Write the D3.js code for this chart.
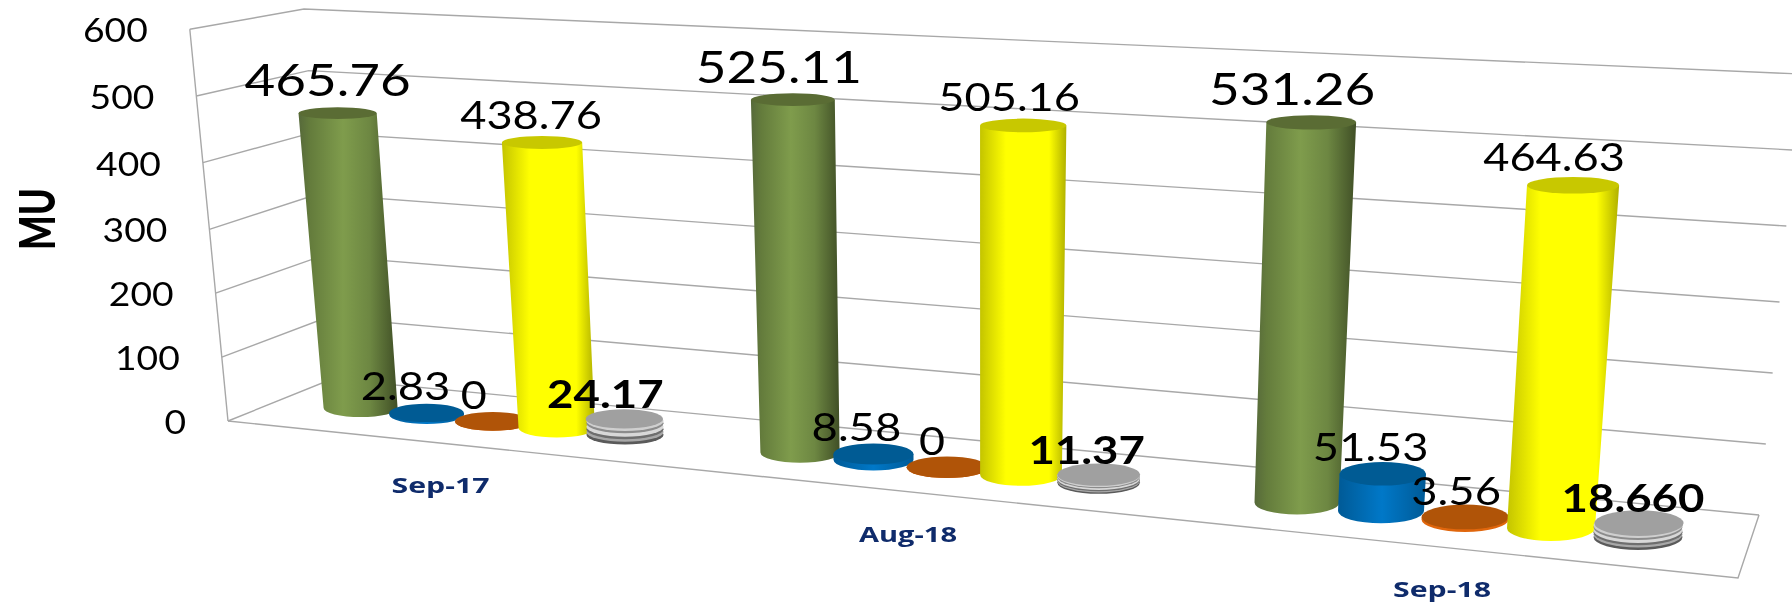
<!DOCTYPE html>
<html lang="en">
<head>
  <meta charset="UTF-8" />
  <title>MU by month</title>
  <style>
    html, body {
      margin: 0;
      padding: 0;
      background: #fff;
      overflow: hidden;
    }
    svg {
      display: block;
      filter: blur(0.5px);
    }
    .tick-label, .value-label {
      font-family: Lato, sans-serif;
      fill: #000;
      text-anchor: middle;
    }
    .cat-label {
      font-family: "Open Sans", sans-serif;
      font-weight: 700;
      font-size: 22px;
      fill: #0f2b6b;
      text-anchor: middle;
    }
    .grid {
      fill: none;
      stroke: #a8a8a8;
      stroke-width: 1.4px;
    }
  </style>
</head>
<body>
  <svg width="1792" height="606"></svg>
  <script src="https://d3js.org/d3.v7.min.js"></script>
  <script>
    const categories = ["Sep-17", "Aug-18", "Sep-18"];
    const greenValues = [465.76, 525.11, 531.26];
    const blueValues = [2.83, 8.58, 51.53];
    const orangeValues = [0, 0, 3.56];
    const yellowValues = [438.76, 505.16, 464.63];
    const greyValues = [24.17, 11.37, 18.66];
    const greyLabels = ["24.17", "11.37", "18.660"];
    const valueTicks = [0, 100, 200, 300, 400, 500, 600];

    const series = [
      { name: "green", values: greenValues, side: "url(#g-green)", top: "#5a6c34", size: 45, digit: 30.5, dy: -17, dx: [-10, -14, -19] },
      { name: "blue", values: blueValues, side: "url(#g-blue)", top: "#005b94", size: 39, digit: 26, dy: -13, dx: [-21, -17, -12] },
      { name: "orange", values: orangeValues, side: "#e0660c", top: "#b05408", size: 39, digit: 26, dy: -12, dx: [-19, -15, -9] },
      { name: "yellow", values: yellowValues, side: "url(#g-yellow)", top: "#c8c800", size: 39, digit: 26, dy: -14, dx: [-11, -14, -19] },
      { name: "grey", values: greyValues, labels: greyLabels, top: "#a0a0a0", size: 39, digit: 26.2, dy: -11, dx: [-19, -12, -6], bold: true }
    ];

    const svg = d3.select("svg");

    // the three corners of the walls, each as value -> screen
    const frontLeftX = d3.scaleLinear().domain([0, 300, 600]).range([228, 209.4, 189.8]);
    const frontLeftY = d3.scaleLinear().domain([0, 300, 600]).range([421, 229.3, 29.3]);
    const backLeftX = d3.scaleLinear().domain([0, 600]).range([332, 304]);
    const backLeftY = d3.scaleLinear().domain([0, 600]).range([379, 9]);
    const backRightX = d3.scaleLinear().domain([0, 600]).range([1759, 1800]);
    const backRightY = d3.scaleLinear().domain([0, 300, 600]).range([515, 302, 74]);
    const frontRight = [1738, 578];

    // columns stand in one plane, slot = 6.5 per category + 1 per series
    const slotX = d3.scaleLinear()
      .domain([0, 2, 3, 4, 6.5, 8.5, 9.5, 10.5, 13, 15, 16, 17])
      .range([360.6, 492.7, 556.7, 625, 800, 947, 1021, 1098.6, 1297, 1465, 1551, 1638]);
    const baseY = d3.scaleLinear().domain([360, 1638]).range([408, 537]);
    const pxPerUnit = d3.scaleLinear().domain([360, 1550]).range([0.633, 0.738]);
    const lean = d3.scaleLinear().domain([360, 1550]).range([-0.0494, 0.0474]);
    const baseRx = d3.scaleLinear().domain([360, 1638]).range([37, 44.5]);
    const baseRy = d3.scaleLinear().domain([360, 1638]).range([9, 13]);

    const catX = d3.scaleLinear().domain([0, 1, 2]).range([440.5, 908, 1442]);
    const frontEdgeY = d3.scaleLinear().domain([frontLeftX(0), frontRight[0]]).range([frontLeftY(0), frontRight[1]]);

    const defs = svg.append("defs");
    function gradient(id, stops) {
      const g = defs.append("linearGradient").attr("id", id);
      stops.forEach(([o, c]) => g.append("stop").attr("offset", o).attr("stop-color", c));
    }
    gradient("g-green", [[0, "#56693a"], [0.12, "#647c3c"], [0.45, "#7f9c4c"], [0.72, "#6d8742"], [1, "#404f26"]]);
    gradient("g-yellow", [[0, "#c4c400"], [0.3, "#ffff00"], [0.8, "#ffff00"], [1, "#b0b000"]]);
    gradient("g-blue", [[0, "#005a96"], [0.5, "#0078c8"], [1, "#005a96"]]);

    const line = d3.line();

    const grid = svg.append("g");
    grid.selectAll("path")
      .data(valueTicks)
      .join("path")
      .attr("class", "grid")
      .attr("d", v => line([
        [frontLeftX(v), frontLeftY(v)],
        [backLeftX(v), backLeftY(v)],
        [backRightX(v), backRightY(v)]
      ]));
    grid.append("path")
      .attr("class", "grid")
      .attr("d", line(valueTicks.map(v => [frontLeftX(v), frontLeftY(v)])));
    grid.append("path")
      .attr("class", "grid")
      .attr("d", line([
        [frontLeftX(0), frontLeftY(0)],
        frontRight,
        [backRightX(0), backRightY(0)]
      ]));

    svg.append("g").selectAll("text")
      .data(valueTicks)
      .join("text")
      .attr("class", "tick-label")
      .attr("x", v => frontLeftX(v) - 42 - String(v).length * 10.8)
      .attr("y", v => frontLeftY(v) + 13)
      .attr("font-size", 32)
      .attr("textLength", v => String(v).length * 21.6)
      .attr("lengthAdjust", "spacingAndGlyphs")
      .text(v => v);

    svg.append("text")
      .attr("class", "tick-label")
      .attr("transform", "translate(55,219) rotate(-90)")
      .attr("font-size", 49)
      .attr("font-weight", 900)
      .attr("textLength", 62)
      .attr("lengthAdjust", "spacingAndGlyphs")
      .text("MU");

    // flatten into one mark per category + series, left to right
    const marks = [];
    categories.forEach((cat, i) => {
      series.forEach((s, j) => {
        const v = s.values[i];
        const x = slotX(6.5 * i + j);
        const y0 = baseY(x);
        const h = v * pxPerUnit(x);
        const rx0 = baseRx(x);
        const ry0 = baseRy(x);
        marks.push({
          s, i, v, x, y0, rx0, ry0,
          xTop: x + v * lean(x),
          yTop: y0 - h,
          rxTop: rx0 + v * 0.0045,
          ryTop: ry0 * (1 - v / 600 * 0.45),
          label: s.labels ? s.labels[i] : String(v)
        });
      });
    });

    const columns = svg.append("g").selectAll("g")
      .data(marks)
      .join("g");

    columns.filter(d => d.s.name !== "grey").append("path")
      .attr("fill", d => d.s.side)
      .attr("d", d => `M${d.xTop - d.rxTop},${d.yTop}L${d.x - d.rx0},${d.y0}A${d.rx0},${d.ry0} 0 0 0 ${d.x + d.rx0},${d.y0}L${d.xTop + d.rxTop},${d.yTop}Z`);

    // grey discs are a small stack of rims
    const rimBands = [[0, "#5a5a5a"], [0.18, "#a8a8a8"], [0.34, "#6e6e6e"], [0.5, "#d8d8d8"], [0.72, "#8c8c8c"], [0.86, "#cfcfcf"]];
    columns.filter(d => d.s.name === "grey").selectAll("ellipse.rim")
      .data(d => rimBands.map(([f, color]) => ({ d, f, color })))
      .join("ellipse")
      .attr("class", "rim")
      .attr("cx", b => b.d.x)
      .attr("cy", b => b.d.y0 + (b.d.yTop - b.d.y0) * b.f)
      .attr("rx", b => b.d.rx0)
      .attr("ry", b => b.d.ry0)
      .attr("fill", b => b.color);

    columns.append("ellipse")
      .attr("cx", d => d.xTop)
      .attr("cy", d => d.yTop)
      .attr("rx", d => d.rxTop)
      .attr("ry", d => d.ryTop)
      .attr("fill", d => d.s.top);

    svg.append("g").selectAll("text")
      .data(marks)
      .join("text")
      .attr("class", "value-label")
      .attr("x", d => d.xTop + d.s.dx[d.i])
      .attr("y", d => d.yTop + d.s.dy)
      .attr("font-size", d => d.s.size)
      .attr("font-weight", d => d.s.bold ? 700 : 400)
      .attr("textLength", d => {
        const dots = d.label.includes(".") ? 1 : 0;
        return d.s.digit * (d.label.length - dots + dots * 0.45);
      })
      .attr("lengthAdjust", "spacingAndGlyphs")
      .text(d => d.label);

    svg.append("g").selectAll("text")
      .data(categories)
      .join("text")
      .attr("class", "cat-label")
      .attr("x", (c, i) => catX(i))
      .attr("y", (c, i) => frontEdgeY(catX(i)) + 50)
      .attr("textLength", 98)
      .attr("lengthAdjust", "spacingAndGlyphs")
      .text(c => c);
  </script>
</body>
</html>
